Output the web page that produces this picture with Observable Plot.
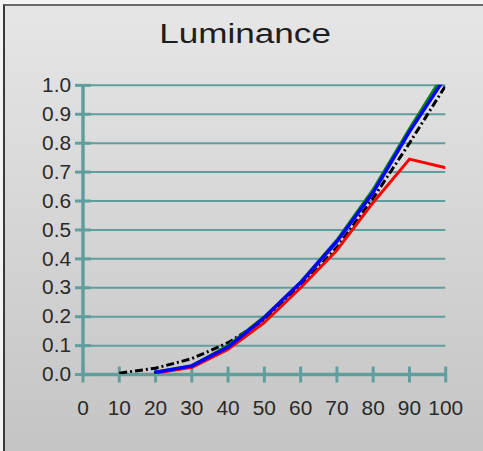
<!DOCTYPE html>
<html>
<head>
<meta charset="utf-8">
<script src="https://cdn.jsdelivr.net/npm/d3@7"></script>
<script src="https://cdn.jsdelivr.net/npm/@observablehq/plot@0.6"></script>
<style>
  html, body { margin: 0; padding: 0; background: #f4f4f4; }
  #frame {
    position: absolute; left: 3px; top: 4px; width: 480px; height: 447px;
    border-left: 2px solid #3a3a3a; border-top: 2px solid #6a6a6a;
    background: linear-gradient(#e6e6e6, #c4c4c4);
    overflow: hidden;
  }
  #title {
    position: absolute; left: 0; width: 480px; top: 13px; text-align: center;
    font-family: "Liberation Sans", Arial, sans-serif; font-size: 27px; line-height: 30px;
    color: #1e1e1e;
  }
  #title span { display: inline-block; transform: scaleX(1.3); }
  #chart { position: absolute; left: -5px; top: 54px; }
</style>
</head>
<body>
<div id="frame">
  <div id="title"><span>Luminance</span></div>
  <div id="chart"></div>
</div>
<script>
const levels = [10, 20, 30, 40, 50, 60, 70, 80, 90, 100];
const reference = [0.005, 0.022, 0.055, 0.11, 0.19, 0.305, 0.44, 0.61, 0.80, 1.0];
const redValues = [null, 0.005, 0.025, 0.087, 0.18, 0.30, 0.43, 0.595, 0.745, 0.715];
const greenValues = [null, 0.008, 0.03, 0.10, 0.20, 0.32, 0.465, 0.64, 0.85, 1.05];
const blueValues = [null, 0.008, 0.03, 0.095, 0.197, 0.318, 0.46, 0.63, 0.84, 1.03];
const xTicks = [0, 10, 20, 30, 40, 50, 60, 70, 80, 90, 100];
const yTicks = [0, 0.1, 0.2, 0.3, 0.4, 0.5, 0.6, 0.7, 0.8, 0.9, 1.0];
const yTickLabels = ["0.0", "0.1", "0.2", "0.3", "0.4", "0.5", "0.6", "0.7", "0.8", "0.9", "1.0"];

const series = (vals) => levels.map((x, i) => ({x, y: vals[i]})).filter(d => d.y != null);

const teal = "#609e9e";
const hTick = {draw(ctx) { ctx.moveTo(-8, 0); ctx.lineTo(8, 0); }};
const vTick = {draw(ctx) { ctx.moveTo(0, -8); ctx.lineTo(0, 8); }};

const chart = Plot.plot({
  width: 488,
  height: 391,
  marginTop: 25,
  marginBottom: 75,
  marginLeft: 83,
  marginRight: 40,
  style: {background: "transparent", overflow: "visible"},
  x: {domain: [0, 100], axis: null},
  y: {domain: [0, 1], axis: null},
  marks: [
    Plot.ruleY(yTicks.slice(1), {stroke: teal, strokeWidth: 2}),
    Plot.ruleX([0], {stroke: teal, strokeWidth: 3.5}),
    Plot.ruleY([0], {stroke: teal, strokeWidth: 3.5}),
    Plot.dot(yTicks, {x: 0, y: d => d, symbol: hTick, r: 8, fill: "none", stroke: teal, strokeWidth: 3}),
    Plot.dot(xTicks, {x: d => d, y: 0, symbol: vTick, r: 8, fill: "none", stroke: teal, strokeWidth: 3}),
    Plot.text(yTicks, {x: 0, y: d => d, text: (d, i) => yTickLabels[i], dx: -12, textAnchor: "end",
      fontSize: 21, fontFamily: "Liberation Sans, Arial, sans-serif", fill: "#2a2a2a"}),
    Plot.text(xTicks, {x: d => d, y: 0, text: d => String(d), dy: 34,
      fontSize: 21, fontFamily: "Liberation Sans, Arial, sans-serif", fill: "#2a2a2a"}),
    Plot.line(series(reference), {x: "x", y: "y", stroke: "#000", strokeWidth: 3, strokeDasharray: "8,3,2,3", strokeLinecap: "butt", clip: true}),
    Plot.line(series(greenValues), {x: "x", y: "y", stroke: "#0a8a0a", strokeWidth: 3, clip: true}),
    Plot.line(series(redValues), {x: "x", y: "y", stroke: "#ff0000", strokeWidth: 3, clip: true}),
    Plot.line(series(blueValues), {x: "x", y: "y", stroke: "#0000ff", strokeWidth: 3.5, clip: true})
  ]
});
document.getElementById("chart").appendChild(chart);
</script>
</body>
</html>
